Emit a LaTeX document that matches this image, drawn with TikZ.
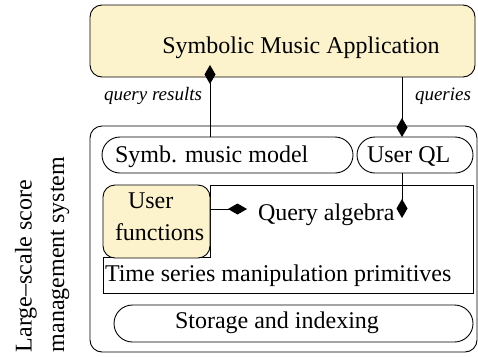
\documentclass[tikz,border=0pt]{standalone}
\usepackage{fontspec}
\setmainfont{Liberation Serif}
\usetikzlibrary{arrows.meta,shapes.misc}
\definecolor{paleyellow}{HTML}{FCF3CC}
\begin{document}
\begin{tikzpicture}[x=1pt,y=-1pt,
  every node/.style={inner sep=0pt,outer sep=0pt},
  frame/.style={draw,line width=0.9pt},
  txt/.style={font=\fontsize{24}{32}\selectfont,anchor=base west},
  lbl/.style={font=\fontsize{19}{24}\selectfont\itshape},
  pill/.style={frame,rounded rectangle,minimum height=36pt},
  dia/.style={line width=0.9pt,-{Diamond[length=19pt,width=11pt]}}]
\useasboundingbox (0,0) rectangle (478,356);
% boxes
\node[frame,fill=paleyellow,rounded corners=12pt,minimum width=385pt,minimum height=72pt] (app) at (282.5,41) {};
\node[frame,rounded corners=12pt,minimum width=387pt,minimum height=226pt] (outer) at (283.5,239) {};
\node[pill,minimum width=251pt] (symb) at (227.5,155) {};
\node[pill,minimum width=116pt] (uql) at (415,155) {};
\draw[frame] (210,185) -- (473,185) -- (473,293) -- (103,293) -- (103,257) -- (210,257) -- cycle;
\node[frame,fill=paleyellow,rounded corners=12pt,minimum width=107pt,minimum height=73pt] (uf) at (156.5,221.5) {};
\node[pill,minimum width=359pt,minimum height=37pt] (stor) at (293.5,323.5) {};
% texts
\node[txt,anchor=base] (tapp) at (301,53) {Symbolic Music Application};
\node[lbl,anchor=base east] (tqr) at (202,100) {query results};
\node[lbl,anchor=base west] (tq) at (415,100) {queries};
\node[txt] (tsymb) at (115,162) {Symb. music model};
\node[txt] (tuql) at (367,162) {User QL};
\node[txt] (tuser) at (128,208) {User};
\node[txt] (tfun) at (115,240) {functions};
\node[txt] (tqa) at (258,220) {Query algebra};
\node[txt] (tts) at (105,281) {Time series manipulation primitives};
\node[txt] (tstor) at (175,328) {Storage and indexing};
\node[txt,rotate=90] (tl1) at (31.7,352) {Large--scale score};
\node[txt,rotate=90] (tl2) at (64,352) {management system};
% connectors
\coordinate (qx) at (402,0);
\coordinate (rtip) at (210,65);
\coordinate (ftip) at (247,209);
\coordinate (dtip) at (402,218);
\draw[dia] (symb.north -| uf.east) -- (rtip);
\draw[dia] (app.south -| qx) -- (uql.north -| qx);
\draw[dia] (uf.east |- ftip) -- (ftip);
\draw[dia] (uql.south -| qx) -- (dtip);
\end{tikzpicture}
\end{document}
